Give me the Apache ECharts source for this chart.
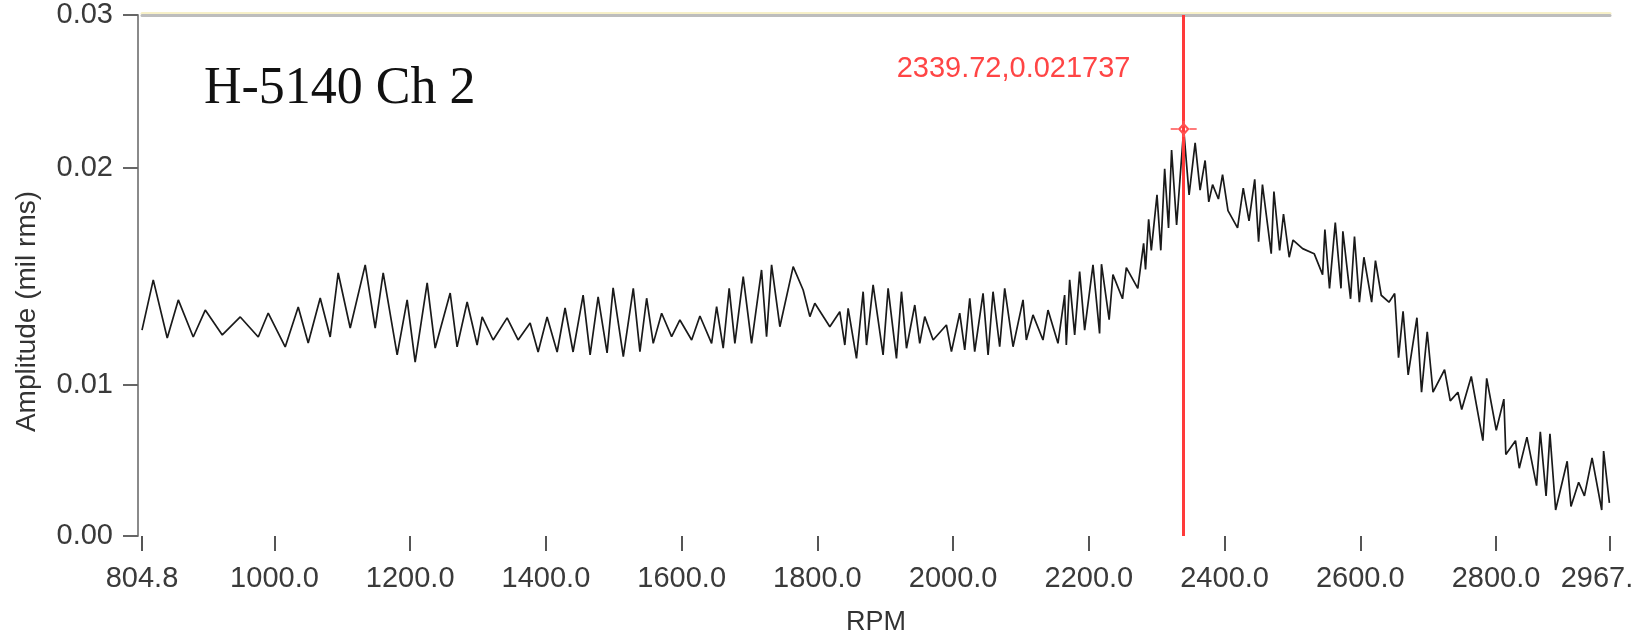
<!DOCTYPE html>
<html>
<head>
<meta charset="utf-8">
<title>H-5140 Ch 2</title>
<script src="https://cdn.jsdelivr.net/npm/echarts@6/dist/echarts.min.js"></script>
<style>
  html, body { margin: 0; padding: 0; background: #fff; }
  #chart { width: 1650px; height: 633px; }
</style>
</head>
<body>
<div id="chart"></div>
<script>
// [rpm, amplitude], in three stretches
var waveLow = [
  [804.8, 0.01100], [821.4, 0.01368], [842.0, 0.01058], [858.3, 0.01261], [880.3, 0.01063],
  [898.0, 0.01207], [923.1, 0.01074], [949.6, 0.01170], [976.1, 0.01063], [990.8, 0.01191],
  [1015.8, 0.01010], [1035.0, 0.01223], [1049.7, 0.01031], [1067.4, 0.01271], [1082.1, 0.01063],
  [1093.9, 0.01405], [1111.6, 0.01111], [1133.7, 0.01448], [1148.4, 0.01111], [1160.2, 0.01405],
  [1180.8, 0.00967], [1195.5, 0.01261], [1207.3, 0.00929], [1225.0, 0.01352], [1236.8, 0.01004],
  [1258.9, 0.01298], [1269.1, 0.01010], [1283.9, 0.01250], [1298.6, 0.01020], [1306.0, 0.01170],
  [1322.2, 0.01047], [1342.8, 0.01165], [1359.0, 0.01047], [1376.7, 0.01138], [1388.5, 0.00983],
  [1401.7, 0.01170], [1416.5, 0.00983], [1428.2, 0.01218], [1440.0, 0.00983], [1454.8, 0.01287],
  [1465.1, 0.00967], [1476.9, 0.01277], [1490.1, 0.00978], [1499.0, 0.01325]
];
var waveMid = [
  [1514.0, 0.00958], [1528.7, 0.01323], [1538.5, 0.00985], [1548.4, 0.01270], [1558.1, 0.01029],
  [1570.5, 0.01190], [1585.2, 0.01065], [1597.4, 0.01154], [1614.7, 0.01047], [1626.9, 0.01175],
  [1644.1, 0.01029], [1651.5, 0.01225], [1661.2, 0.01003], [1670.0, 0.01323], [1678.4, 0.01029],
  [1690.7, 0.01385], [1703.0, 0.01029], [1717.7, 0.01421], [1725.1, 0.01065], [1732.5, 0.01448],
  [1744.7, 0.01118], [1764.3, 0.01439], [1779.0, 0.01314], [1788.9, 0.01172], [1796.2, 0.01243],
  [1818.3, 0.01118], [1833.0, 0.01198], [1840.4, 0.01020], [1845.3, 0.01216], [1857.6, 0.00949],
  [1867.4, 0.01305], [1872.4, 0.01020], [1882.1, 0.01341], [1896.8, 0.00967], [1904.2, 0.01323],
  [1916.5, 0.00949], [1923.9, 0.01305], [1931.3, 0.01003], [1943.5, 0.01234], [1950.8, 0.01029],
  [1958.2, 0.01172], [1970.5, 0.01047], [1990.1, 0.01127], [1997.5, 0.00985], [2009.7, 0.01190],
  [2017.1, 0.00994], [2024.5, 0.01270], [2031.8, 0.00985], [2044.1, 0.01296], [2051.5, 0.00967],
  [2058.8, 0.01305], [2068.6, 0.01011], [2076.0, 0.01323], [2088.3, 0.01011], [2103.0, 0.01261],
  [2107.9, 0.01047], [2117.7, 0.01181], [2132.4, 0.01047], [2139.8, 0.01207], [2154.5, 0.01029],
  [2164.3, 0.01287], [2166.8, 0.01020], [2171.7, 0.01368], [2179.1, 0.01074], [2186.4, 0.01412],
  [2193.8, 0.01100], [2206.1, 0.01448]
];
var waveHigh = [
  [2215.8, 0.01082], [2218.6, 0.01452], [2229.9, 0.01156], [2235.5, 0.01396], [2249.6, 0.01267],
  [2255.2, 0.01434], [2272.1, 0.01323], [2280.7, 0.01563], [2283.5, 0.01424], [2288.1, 0.01692],
  [2292.0, 0.01526], [2300.4, 0.01822], [2306.0, 0.01526], [2311.7, 0.01961], [2317.4, 0.01646],
  [2321.9, 0.02062], [2329.3, 0.01661], [2339.72, 0.021737], [2347.7, 0.01822], [2356.6, 0.02100],
  [2363.9, 0.01848], [2371.3, 0.02006], [2376.7, 0.01785], [2382.3, 0.01877], [2390.9, 0.01800],
  [2397.0, 0.01930], [2405.0, 0.01738], [2419.1, 0.01646], [2427.5, 0.01858], [2436.0, 0.01683],
  [2444.4, 0.01905], [2450.1, 0.01572], [2455.8, 0.01877], [2468.7, 0.01508], [2472.7, 0.01840],
  [2481.1, 0.01526], [2486.8, 0.01720], [2495.2, 0.01489], [2500.9, 0.01581], [2515.0, 0.01535],
  [2532.0, 0.01508], [2544.4, 0.01396], [2547.8, 0.01637], [2554.6, 0.01323], [2563.1, 0.01674],
  [2571.5, 0.01323], [2574.3, 0.01628], [2585.6, 0.01267], [2591.4, 0.01600], [2598.6, 0.01249],
  [2605.3, 0.01489], [2616.7, 0.01249], [2622.3, 0.01471], [2630.8, 0.01286], [2642.2, 0.01249],
  [2650.6, 0.01295], [2656.3, 0.00953], [2663.0, 0.01200], [2670.5, 0.00861], [2683.4, 0.01166],
  [2690.2, 0.00768], [2698.6, 0.01091], [2707.1, 0.00768], [2724.1, 0.00888], [2732.5, 0.00722],
  [2743.8, 0.00768], [2749.4, 0.00676], [2763.5, 0.00852], [2780.6, 0.00509], [2786.2, 0.00842],
  [2800.3, 0.00565], [2811.5, 0.00731], [2814.4, 0.00435], [2828.6, 0.00509], [2834.2, 0.00362],
  [2845.5, 0.00528], [2859.7, 0.00269], [2865.2, 0.00556], [2873.7, 0.00214], [2879.4, 0.00546],
  [2887.8, 0.00139], [2904.8, 0.00399], [2910.4, 0.00158], [2921.7, 0.00287], [2930.2, 0.00214],
  [2941.5, 0.00417], [2955.7, 0.00139], [2958.5, 0.00454], [2967.0, 0.00177]
];

// axis ticks as the graph shows them (the y ticks sit at odd values, labels rounded)
var xTickValues = [804.8, 1000, 1200, 1400, 1600, 1800, 2000, 2200, 2400, 2600, 2800, 2967.9];
var xTickLabels = ["804.8", "1000.0", "1200.0", "1400.0", "1600.0", "1800.0", "2000.0",
  "2200.0", "2400.0", "2600.0", "2800.0", "2967."];
var yTickValues = [0, 0.00807, 0.01966, 0.02783];
var yTickLabels = ["0.00", "0.01", "0.02", "0.03"];

// cursor
var cursorRpm = 2339.72;
var cursorAmp = 0.021737;

var myChart = echarts.init(document.getElementById("chart"));
var font = "'Liberation Sans', Arial, sans-serif";

var option = {
  animation: false,
  title: {
    text: "H-5140 Ch 2",
    left: 199,
    top: 58,
    textStyle: {
      fontFamily: "'Liberation Serif', 'Times New Roman', serif",
      fontSize: 52,
      fontWeight: "normal",
      color: "#111"
    }
  },
  grid: { left: 142, right: 40, top: 15, bottom: 97, containLabel: false, outerBoundsMode: "none" },
  xAxis: [
    {
      type: "value",
      min: 804.8,
      max: 2967.9,
      offset: 6,
      name: "RPM",
      nameLocation: "middle",
      nameGap: 67,
      nameTextStyle: { fontFamily: font, fontSize: 27, color: "#333" },
      axisLine: { show: false },
      splitLine: { show: false },
      axisTick: {
        show: true,
        length: 15,
        customValues: xTickValues,
        lineStyle: { color: "#555", width: 2 }
      },
      axisLabel: {
        customValues: xTickValues,
        margin: 22,
        fontFamily: font,
        fontSize: 29,
        color: "#3a3a3a",
        hideOverlap: false,
        formatter: function (val) {
          var i = xTickValues.indexOf(val);
          var txt = i >= 0 ? xTickLabels[i] : "";
          return i === xTickValues.length - 1 ? "{t|" + txt + "}" : txt;
        },
        rich: { t: { fontFamily: font, fontSize: 29, color: "#3a3a3a", padding: [0, 26, 0, 0] } }
      }
    },
    {
      // top border of the plot
      type: "value",
      position: "top",
      min: 804.8,
      max: 2967.9,
      axisLine: {
        show: true,
        lineStyle: { color: "#bdbdbd", width: 3, shadowColor: "#f7f0c8", shadowOffsetY: -2 }
      },
      axisTick: { show: false },
      axisLabel: { show: false },
      splitLine: { show: false }
    }
  ],
  yAxis: {
    type: "value",
    min: 0,
    max: 0.02783,
    offset: 4,
    name: "Amplitude (mil rms)",
    nameLocation: "middle",
    nameGap: 97,
    nameTextStyle: { fontFamily: font, fontSize: 28, color: "#333", padding: [0, 72, 0, 0] },
    axisLine: { show: true, onZero: false, lineStyle: { color: "#8a8a8a", width: 2 } },
    splitLine: { show: false },
    axisTick: {
      show: true,
      length: 15,
      customValues: yTickValues,
      lineStyle: { color: "#666", width: 2 }
    },
    axisLabel: {
      customValues: yTickValues,
      margin: 25,
      fontFamily: font,
      fontSize: 29,
      color: "#3a3a3a",
      formatter: function (val) {
        var i = yTickValues.indexOf(val);
        return i >= 0 ? yTickLabels[i] : "";
      }
    }
  },
  series: [
    {
      name: "Ch 2",
      type: "line",
      data: waveLow.concat(waveMid, waveHigh),
      showSymbol: false,
      lineStyle: { color: "#1a1a1a", width: 1.7 },
      markLine: {
        silent: true,
        symbol: ["none", "none"],
        label: { show: false },
        lineStyle: { color: "#ff3a3a", width: 3, type: "solid" },
        data: [{ xAxis: cursorRpm }]
      },
      markPoint: {
        silent: true,
        symbol: "path://M0,8H8M21,8H29M14.5,0V4M14.5,12V16M14.5,3L19.5,8L14.5,13L9.5,8Z",
        symbolSize: [26, 16],
        itemStyle: { color: "none", borderColor: "#ff5050", borderWidth: 2 },
        label: {
          show: true,
          position: "left",
          distance: 37,
          offset: [0, -60],
          fontFamily: font,
          fontSize: 29,
          color: "#ff4545",
          formatter: function () { return cursorRpm + "," + cursorAmp; }
        },
        data: [{ coord: [cursorRpm, cursorAmp] }]
      }
    }
  ]
};

myChart.setOption(option);
</script>
</body>
</html>
